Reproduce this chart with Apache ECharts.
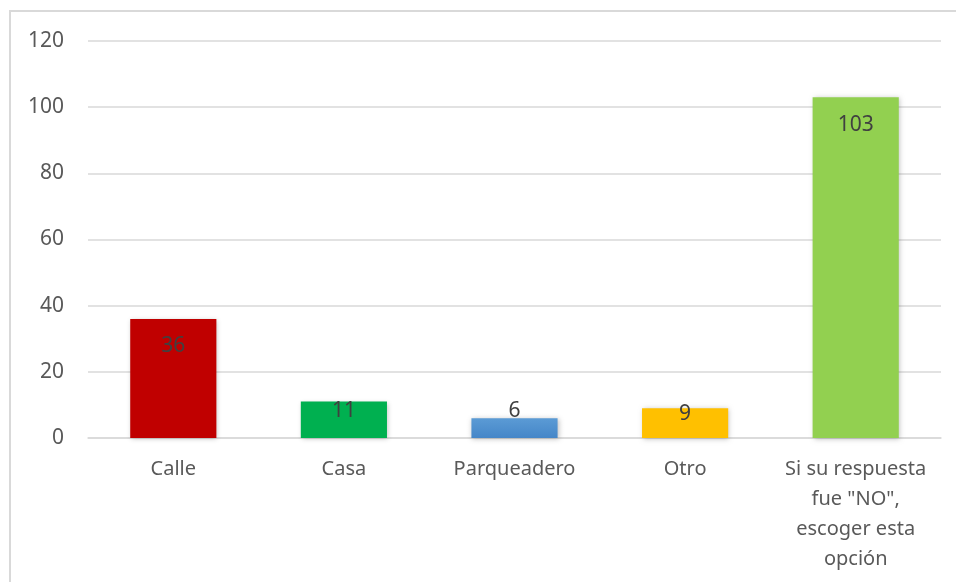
<!DOCTYPE html>
<html>
<head>
<meta charset="utf-8">
<script src="https://cdn.jsdelivr.net/npm/echarts@6/dist/echarts.min.js"></script>
<style>
  html, body { margin: 0; padding: 0; background: #ffffff; }
  #chart { width: 956px; height: 582px; }
</style>
</head>
<body>
<div id="chart"></div>
<script>
// Survey answers: where the vehicle is kept
const categories = ['Calle', 'Casa', 'Parqueadero', 'Otro', 'Si su respuesta fue "NO", escoger esta opción'];
const counts = [36, 11, 6, 9, 103];
const yTicks = [0, 20, 40, 60, 80, 100, 120];

const barColors = [
  '#C00000',
  '#00B050',
  new echarts.graphic.LinearGradient(0, 0, 0, 1, [
    { offset: 0, color: '#5B9BD5' },
    { offset: 1, color: '#4586C8' }
  ]),
  '#FFC000',
  '#92D050'
];

// Wrap the long category name onto several lines
function wrapLabel(name) {
  if (name.length < 20) return name;
  return 'Si su respuesta\nfue "NO",\nescoger esta\nopción';
}

// Value labels sit inside the top of tall bars and float near the top of short ones
function labelDistance(v) {
  if (v >= 30) return 17;
  if (v >= 10) return -1;
  if (v >= 8) return -5;
  return -18;
}

const chart = echarts.init(document.getElementById('chart'), null, { renderer: 'canvas' });

chart.setOption({
  animation: false,
  backgroundColor: '#ffffff',
  graphic: [{
    type: 'rect',
    shape: { x: 10, y: 11, width: 960, height: 600 },
    style: { fill: 'none', stroke: '#d9d9d9', lineWidth: 2 },
    silent: true,
    z: -1
  }],
  grid: { left: 88, right: 15, top: 41, bottom: 144, containLabel: false },
  xAxis: {
    type: 'category',
    data: categories,
    axisLine: { show: true, lineStyle: { color: '#d9d9d9', width: 1.5 } },
    axisTick: { show: false },
    axisLabel: {
      interval: 0,
      margin: 16,
      color: '#595959',
      fontFamily: 'Noto Sans',
      fontSize: 20,
      lineHeight: 30,
      formatter: wrapLabel
    }
  },
  yAxis: {
    type: 'value',
    min: yTicks[0],
    max: yTicks[yTicks.length - 1],
    interval: yTicks[1] - yTicks[0],
    axisLine: { show: false },
    axisTick: { show: false },
    splitLine: { lineStyle: { color: '#d9d9d9', width: 1.5 } },
    axisLabel: {
      margin: 24,
      color: '#595959',
      fontFamily: 'Noto Sans',
      fontSize: 21
    }
  },
  series: [{
    type: 'bar',
    barWidth: '50.5%',
    data: counts.map((v, i) => ({
      value: v,
      itemStyle: { color: barColors[i] },
      label: { distance: labelDistance(v) }
    })),
    itemStyle: {
      shadowColor: 'rgba(0,0,0,0.25)',
      shadowBlur: 5,
      shadowOffsetX: 1,
      shadowOffsetY: 1
    },
    label: {
      show: true,
      position: 'insideTop',
      color: '#404040',
      fontFamily: 'Noto Sans',
      fontSize: 21
    }
  }]
});
</script>
</body>
</html>
